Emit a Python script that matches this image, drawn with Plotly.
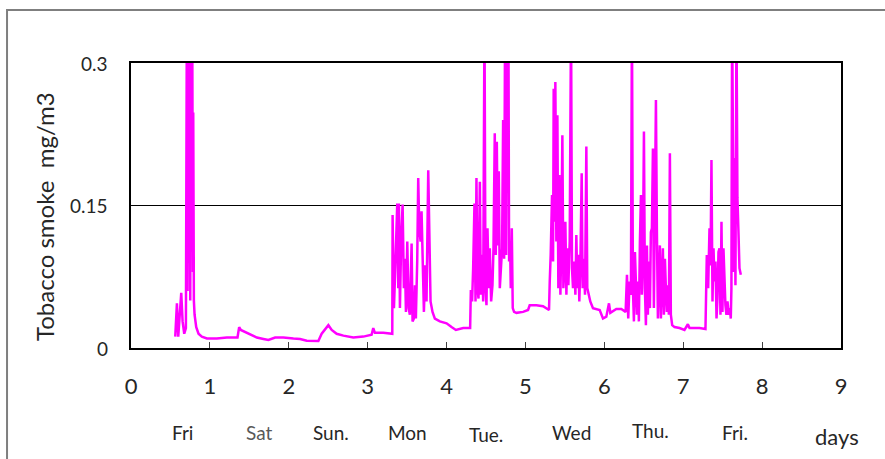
import plotly.graph_objects as go

# Elapsed time since the start of monitoring (days) and tobacco smoke concentration (mg/m3).
# Readings above 0.3 run off the top of the scale.
days = [
    0.561, 0.582, 0.599, 0.616, 0.637, 0.654, 0.675, 0.696,
    0.708, 0.717, 0.725, 0.734, 0.742, 0.751, 0.759, 0.768, 0.776, 0.785, 0.789, 0.797,
    0.806, 0.827, 0.856, 0.898, 0.962, 1.088, 1.215, 1.350, 1.371, 1.392, 1.447, 1.510,
    1.595, 1.679, 1.742, 1.827, 1.932, 2.059, 2.143, 2.228, 2.375, 2.417, 2.459, 2.502,
    2.544, 2.607, 2.692, 2.818, 2.945, 3.050, 3.071, 3.092, 3.198, 3.312,
    # Monday
    3.316, 3.333, 3.354, 3.375, 3.388, 3.396, 3.409, 3.426, 3.443, 3.459, 3.472, 3.485,
    3.502, 3.519, 3.535, 3.557, 3.569, 3.586, 3.599, 3.611, 3.628, 3.641, 3.654, 3.671,
    3.683, 3.696, 3.713, 3.730, 3.746, 3.768, 3.780, 3.797, 3.822, 3.852, 3.915, 4.000,
    4.063, 4.118, 4.211, 4.299,
    # Tuesday
    4.308, 4.324, 4.337, 4.354, 4.367, 4.379, 4.392, 4.405, 4.422, 4.434, 4.451, 4.464,
    4.481, 4.493, 4.506, 4.519, 4.535, 4.548, 4.565, 4.582, 4.595, 4.611, 4.624, 4.637,
    4.649, 4.662, 4.675, 4.692, 4.704, 4.717, 4.730, 4.742, 4.755, 4.768, 4.776, 4.784,
    4.793, 4.805, 4.814, 4.827, 4.839, 4.856, 4.886, 4.970, 5.033, 5.054, 5.139, 5.223,
    5.299,
    # Wednesday
    5.308, 5.320, 5.337, 5.350, 5.358, 5.371, 5.379, 5.392, 5.405, 5.417, 5.430, 5.443,
    5.455, 5.468, 5.481, 5.493, 5.506, 5.519, 5.531, 5.544, 5.561, 5.578, 5.590, 5.603,
    5.620, 5.633, 5.645, 5.658, 5.670, 5.683, 5.696, 5.713, 5.725, 5.738, 5.755, 5.772,
    5.784, 5.801, 5.822, 5.856, 5.941, 5.983, 6.025, 6.059, 6.076, 6.152, 6.215, 6.270,
    # Thursday
    6.287, 6.303, 6.320, 6.337, 6.350, 6.362, 6.375, 6.388, 6.400, 6.413, 6.426, 6.438,
    6.451, 6.464, 6.476, 6.489, 6.502, 6.514, 6.527, 6.540, 6.552, 6.565, 6.578, 6.590,
    6.603, 6.616, 6.628, 6.641, 6.654, 6.666, 6.679, 6.692, 6.704, 6.717, 6.730, 6.742,
    6.755, 6.768, 6.780, 6.793, 6.806, 6.818, 6.831, 6.843, 6.860, 6.890, 6.953, 7.016,
    7.059, 7.080, 7.206, 7.282,
    # Friday
    7.299, 7.316, 7.333, 7.346, 7.358, 7.371, 7.384, 7.396, 7.409, 7.422, 7.434, 7.447,
    7.460, 7.472, 7.485, 7.497, 7.510, 7.523, 7.535, 7.548, 7.561, 7.578, 7.590, 7.603,
    7.611, 7.620, 7.633, 7.641, 7.649, 7.662, 7.675, 7.687, 7.700, 7.713, 7.730,
]

smoke = [
    0.012, 0.047, 0.012, 0.035, 0.058, 0.028, 0.015, 0.021,
    0.350, 0.060, 0.350, 0.090, 0.350, 0.050, 0.350, 0.120, 0.350, 0.080, 0.248, 0.050,
    0.035, 0.022, 0.015, 0.012, 0.010, 0.010, 0.011, 0.011, 0.022, 0.019, 0.017, 0.014,
    0.011, 0.0095, 0.0084, 0.011, 0.011, 0.010, 0.0095, 0.0077, 0.0074, 0.015, 0.019, 0.024,
    0.019, 0.015, 0.013, 0.011, 0.012, 0.014, 0.021, 0.016, 0.016, 0.015,
    # Monday
    0.140, 0.042, 0.094, 0.152, 0.063, 0.152, 0.042, 0.119, 0.151, 0.063, 0.094, 0.038,
    0.112, 0.042, 0.035, 0.110, 0.028, 0.031, 0.066, 0.031, 0.091, 0.179, 0.126, 0.112,
    0.144, 0.091, 0.038, 0.087, 0.049, 0.187, 0.108, 0.049, 0.038, 0.031, 0.028, 0.026,
    0.022, 0.019, 0.021, 0.021,
    # Tuesday
    0.061, 0.049, 0.084, 0.152, 0.049, 0.179, 0.063, 0.052, 0.175, 0.056, 0.098, 0.049,
    0.350, 0.063, 0.045, 0.126, 0.063, 0.105, 0.049, 0.066, 0.105, 0.226, 0.098, 0.217,
    0.108, 0.186, 0.063, 0.084, 0.105, 0.240, 0.094, 0.350, 0.098, 0.350, 0.203, 0.350,
    0.091, 0.112, 0.063, 0.126, 0.042, 0.038, 0.037, 0.038, 0.040, 0.045, 0.045, 0.044,
    0.040,
    # Wednesday
    0.070, 0.098, 0.161, 0.091, 0.273, 0.133, 0.280, 0.112, 0.245, 0.063, 0.182, 0.056,
    0.112, 0.224, 0.063, 0.084, 0.133, 0.056, 0.105, 0.066, 0.112, 0.350, 0.084, 0.063,
    0.091, 0.056, 0.119, 0.063, 0.098, 0.049, 0.087, 0.184, 0.063, 0.094, 0.056, 0.212,
    0.063, 0.056, 0.049, 0.042, 0.040, 0.031, 0.033, 0.047, 0.037, 0.041, 0.041, 0.038,
    # Thursday
    0.077, 0.031, 0.070, 0.056, 0.350, 0.063, 0.028, 0.101, 0.056, 0.035, 0.070, 0.028,
    0.112, 0.161, 0.056, 0.098, 0.228, 0.063, 0.024, 0.108, 0.035, 0.091, 0.042, 0.122,
    0.126, 0.210, 0.042, 0.210, 0.261, 0.126, 0.031, 0.070, 0.108, 0.031, 0.063, 0.105,
    0.035, 0.094, 0.063, 0.038, 0.066, 0.035, 0.205, 0.035, 0.024, 0.022, 0.021, 0.019,
    0.025, 0.021, 0.021, 0.020,
    # Friday
    0.098, 0.063, 0.126, 0.087, 0.198, 0.049, 0.105, 0.070, 0.091, 0.031, 0.052, 0.101,
    0.105, 0.035, 0.133, 0.038, 0.105, 0.063, 0.045, 0.035, 0.049, 0.035, 0.042, 0.031,
    0.063, 0.350, 0.200, 0.080, 0.200, 0.066, 0.350, 0.158, 0.123, 0.084, 0.077,
]

x_ticks = [0, 1, 2, 3, 4, 5, 6, 7, 8, 9]
y_ticks = [0, 0.15, 0.3]
y_tick_labels = ["0", "0.15", "0.3"]
weekday_names = ["Fri", "Sat", "Sun.", "Mon", "Tue.", "Wed", "Thu.", "Fri."]
weekday_pos = [0.656, 1.62, 2.53, 3.51, 4.50, 5.58, 6.59, 7.66]
weekday_y = [-0.298, -0.298, -0.298, -0.298, -0.305, -0.298, -0.291, -0.298]

FONT = "Lato, 'Open Sans', sans-serif"
TEXT = "#262626"

fig = go.Figure()
fig.add_trace(go.Scatter(
    x=days, y=smoke, mode="lines",
    line=dict(color="#FF00FF", width=2.5),
    hoverinfo="x+y", showlegend=False,
))

fig.update_layout(
    width=885, height=459,
    margin=dict(l=131, r=44, t=63, b=111),
    paper_bgcolor="white", plot_bgcolor="white",
    font=dict(family=FONT, color=TEXT),
    showlegend=False,
)

fig.update_xaxes(
    range=[0, 9], tickvals=x_ticks, ticktext=[str(v) for v in x_ticks],
    ticks="inside", ticklen=6, tickwidth=1, tickcolor="#404040",
    ticklabelstandoff=18,
    tickfont=dict(size=22, color=TEXT, family=FONT),
    showline=True, linecolor="black", linewidth=2, mirror=True,
    showgrid=False, zeroline=False,
)
fig.update_yaxes(
    range=[0, 0.3], tickvals=y_ticks, showticklabels=False, ticks="",
    showline=True, linecolor="black", linewidth=2, mirror=True,
    showgrid=True, gridcolor="black", gridwidth=1, zeroline=False,
)

# Y tick labels, right-aligned left of the plot frame
for val, lab in zip(y_ticks, y_tick_labels):
    fig.add_annotation(
        x=0, xref="paper", y=val, yref="y", text=lab, showarrow=False,
        xanchor="right", yanchor="middle", xshift=-21,
        font=dict(size=19, color=TEXT, family=FONT),
    )

# Y axis title
fig.add_annotation(
    x=-0.121, xref="paper", y=0.46, yref="paper",
    text="Tobacco smoke  mg/m3", textangle=-90, showarrow=False,
    xanchor="center", yanchor="middle",
    font=dict(size=24, color=TEXT, family=FONT),
)

# Weekday labels under the axis
for name, pos, yy in zip(weekday_names, weekday_pos, weekday_y):
    fig.add_annotation(
        x=pos, xref="x", y=yy, yref="paper", text=name, showarrow=False,
        xanchor="center", yanchor="middle",
        font=dict(size=19, color="#595959" if name == "Sat" else TEXT, family=FONT),
    )

fig.add_annotation(
    x=8.95, xref="x", y=-0.312, yref="paper", text="days", showarrow=False,
    xanchor="center", yanchor="middle",
    font=dict(size=22, color=TEXT, family=FONT),
)

# Outer chart frame
fig.add_shape(
    type="rect", xref="paper", yref="paper",
    x0=-0.1746, x1=1.07, y0=-0.42, y1=1.186,
    line=dict(color="#7F7F7F", width=2), fillcolor="rgba(0,0,0,0)", layer="below",
)

fig.write_html("out.html")
